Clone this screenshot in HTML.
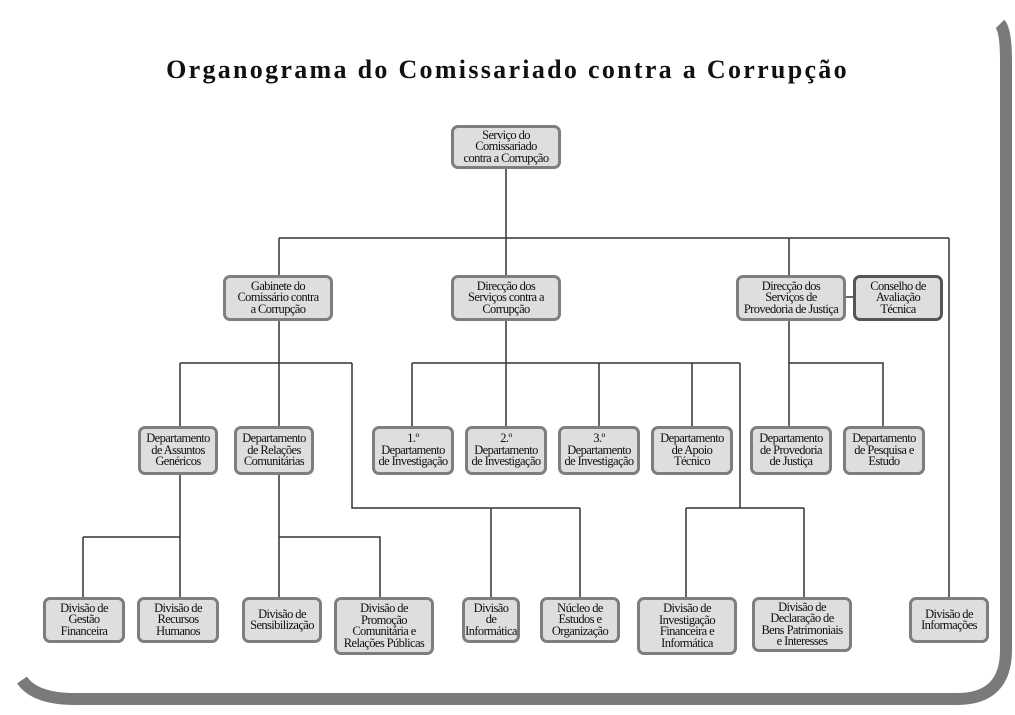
<!DOCTYPE html>
<html><head><meta charset="utf-8"><style>
body{margin:0;width:1015px;height:715px;background:#fff;position:relative;overflow:hidden;font-family:"Liberation Serif",serif}
.t{position:absolute;left:0;width:1015px;top:55px;text-align:center;font-weight:bold;font-size:26px;letter-spacing:2.3px;color:#111}
.b{position:absolute;box-sizing:border-box;border:3.5px solid #7e7e7e;border-radius:7px;background:#dedede;display:flex;align-items:center;justify-content:center;text-align:center;font-size:12.5px;line-height:11.5px;letter-spacing:-0.6px;color:#111;padding:0 1px;white-space:nowrap}
.d{border-color:#555}
svg{position:absolute;left:0;top:0}
</style></head><body>
<svg width="1015" height="715">
<path d="M1000,24 Q1006,30 1006,60 L1006,650 Q1006,699 957,699 L75,699 Q35,699 22,680" fill="none" stroke="#7a7a7a" stroke-width="12"/>
<g stroke="#333" stroke-width="1.5" fill="none">
<path d="M506,168V238M279,238H949M279,238V275M506,238V275M789,238V275M949,238V597"/>
<path d="M846,297H853"/>
<path d="M279,320V363M180,363H352M180,363V426M279,363V426M352,363V508H580M491,508V597M580,508V597"/>
<path d="M506,320V363M412,363H740M412,363V426M506,363V426M599,363V426M692,363V426M740,363V508M686,508H804M686,508V597M804,508V597"/>
<path d="M789,320V426M789,363H883V426"/>
<path d="M180,474V537M83,537H180M83,537V597M180,537V597"/>
<path d="M279,474V537H380V597M279,537V597"/>
</g>
</svg>
<div class="t">Organograma do Comissariado contra a Corrupção</div>
<div class="b" style="left:451px;top:125px;width:110px;height:44px">Serviço do<br>Comissariado<br>contra a Corrupção</div>
<div class="b" style="left:223px;top:275px;width:110px;height:46px">Gabinete do<br>Comissário contra<br>a Corrupção</div>
<div class="b" style="left:451px;top:275px;width:110px;height:46px">Direcção dos<br>Serviços contra a<br>Corrupção</div>
<div class="b" style="left:736px;top:275px;width:110px;height:46px">Direcção dos<br>Serviços de<br>Provedoria de Justiça</div>
<div class="b d" style="left:853px;top:275px;width:90px;height:46px">Conselho de<br>Avaliação<br>Técnica</div>
<div class="b" style="left:138px;top:426px;width:80px;height:49px">Departamento<br>de Assuntos<br>Genéricos</div>
<div class="b" style="left:234px;top:426px;width:80px;height:49px">Departamento<br>de Relações<br>Comunitárias</div>
<div class="b" style="left:372px;top:426px;width:82px;height:49px">1.º<br>Departamento<br>de Investigação</div>
<div class="b" style="left:465px;top:426px;width:82px;height:49px">2.º<br>Departamento<br>de Investigação</div>
<div class="b" style="left:558px;top:426px;width:82px;height:49px">3.º<br>Departamento<br>de Investigação</div>
<div class="b" style="left:651px;top:426px;width:82px;height:49px">Departamento<br>de Apoio<br>Técnico</div>
<div class="b" style="left:750px;top:426px;width:82px;height:49px">Departamento<br>de Provedoria<br>de Justiça</div>
<div class="b" style="left:843px;top:426px;width:82px;height:49px">Departamento<br>de Pesquisa e<br>Estudo</div>
<div class="b" style="left:43px;top:597px;width:82px;height:46px">Divisão de<br>Gestão<br>Financeira</div>
<div class="b" style="left:137px;top:597px;width:82px;height:46px">Divisão de<br>Recursos<br>Humanos</div>
<div class="b" style="left:242px;top:597px;width:80px;height:46px">Divisão de<br>Sensibilização</div>
<div class="b" style="left:334px;top:597px;width:100px;height:58px">Divisão de<br>Promoção<br>Comunitária e<br>Relações Públicas</div>
<div class="b" style="left:462px;top:597px;width:58px;height:46px">Divisão<br>de<br>Informática</div>
<div class="b" style="left:540px;top:597px;width:80px;height:46px">Núcleo de<br>Estudos e<br>Organização</div>
<div class="b" style="left:637px;top:597px;width:100px;height:58px">Divisão de<br>Investigação<br>Financeira e<br>Informática</div>
<div class="b" style="left:752px;top:597px;width:100px;height:55px">Divisão de<br>Declaração de<br>Bens Patrimoniais<br>e Interesses</div>
<div class="b" style="left:909px;top:597px;width:80px;height:46px">Divisão de<br>Informações</div>
</body></html>
